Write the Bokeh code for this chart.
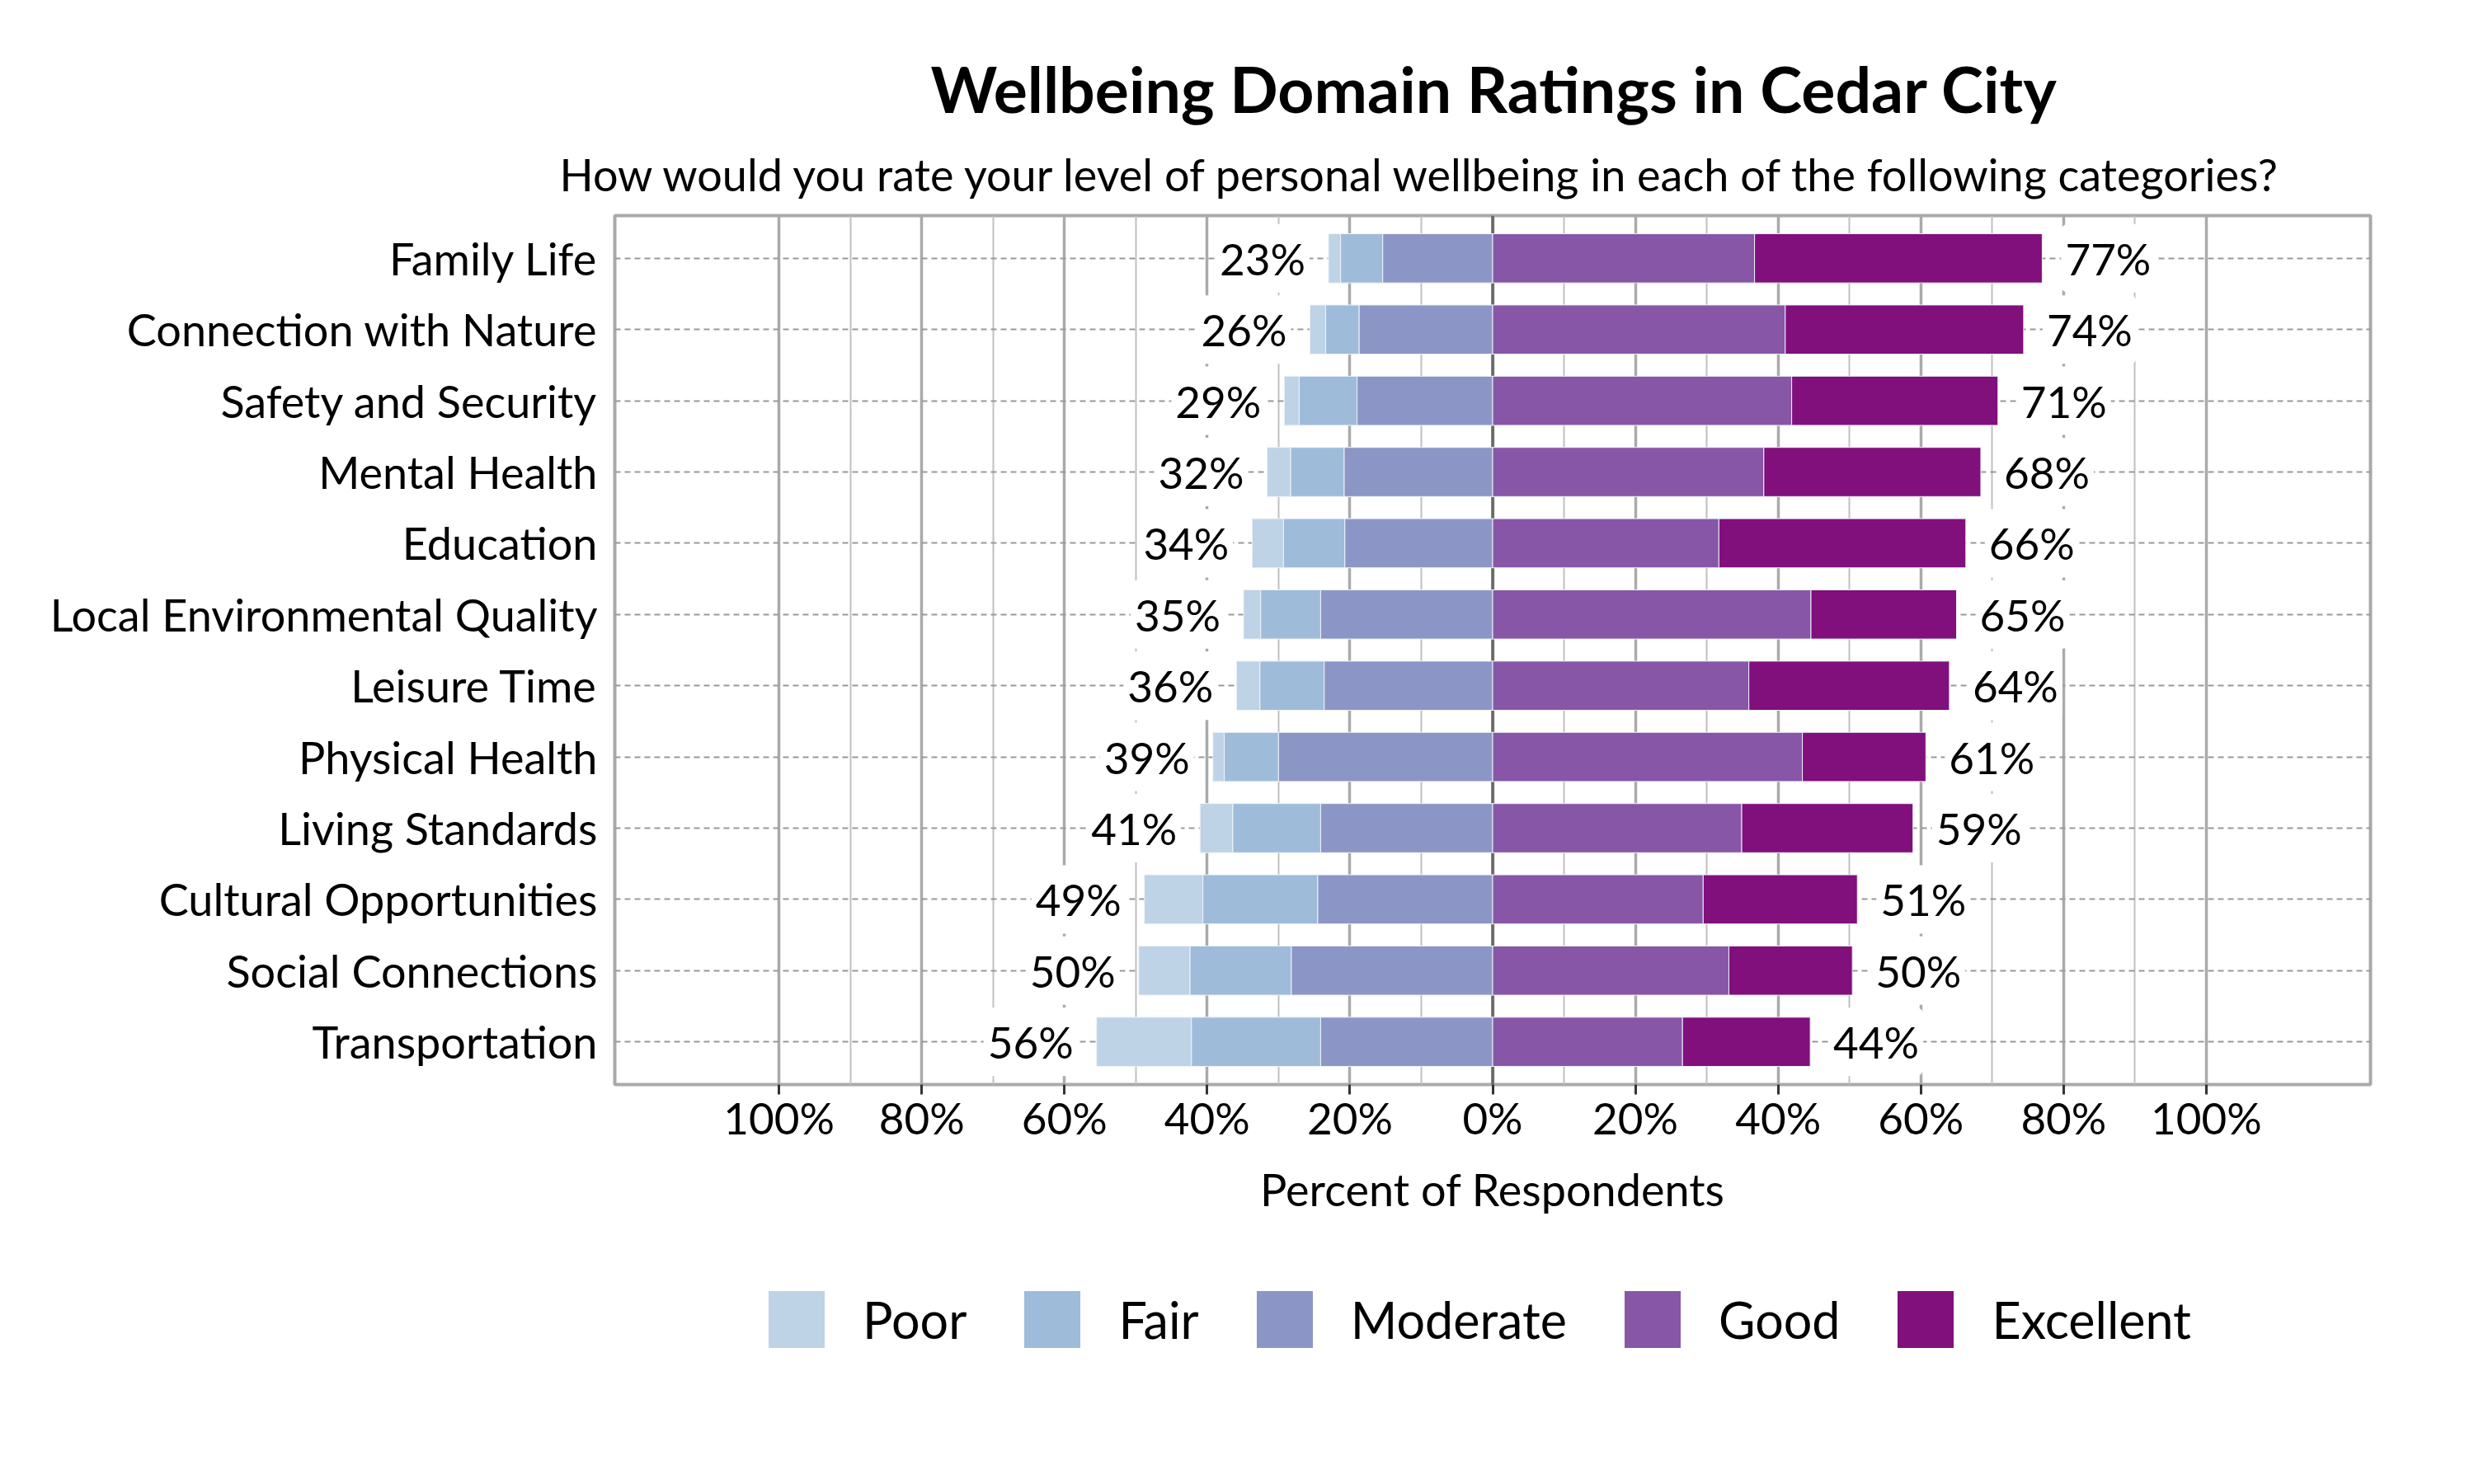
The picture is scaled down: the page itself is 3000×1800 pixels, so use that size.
from bokeh.plotting import figure
from bokeh.layouts import column
from bokeh.models import Range1d, FixedTicker, Span, Legend, LegendItem, Title, ColumnDataSource
from bokeh.core.properties import value
from bokeh.embed import file_html
from bokeh.resources import INLINE

categories = ["Family Life", "Connection with Nature", "Safety and Security", "Mental Health",
              "Education", "Local Environmental Quality", "Leisure Time", "Physical Health",
              "Living Standards", "Cultural Opportunities", "Social Connections", "Transportation"]
poor = [1.7, 2.2, 2.1, 3.3, 4.4, 2.4, 3.3, 1.6, 4.6, 8.2, 7.2, 13.3]
fair = [5.9, 4.7, 8.1, 7.5, 8.6, 8.4, 9.0, 7.6, 12.3, 16.1, 14.2, 18.1]
moderate = [15.4, 18.7, 19.0, 20.8, 20.7, 24.1, 23.6, 30.0, 24.1, 24.5, 28.2, 24.1]
good = [36.7, 41.0, 41.9, 38.0, 31.7, 44.6, 35.9, 43.4, 34.9, 29.5, 33.1, 26.6]
excellent = [40.3, 33.4, 28.9, 30.4, 34.6, 20.4, 28.1, 17.3, 24.0, 21.6, 17.3, 17.9]
neg_labels = ["23%", "26%", "29%", "32%", "34%", "35%", "36%", "39%", "41%", "49%", "50%", "56%"]
pos_labels = ["77%", "74%", "71%", "68%", "66%", "65%", "64%", "61%", "59%", "51%", "50%", "44%"]
tick_vals = [-100, -80, -60, -40, -20, 0, 20, 40, 60, 80, 100]
tick_labels = ["100%", "80%", "60%", "40%", "20%", "0%", "20%", "40%", "60%", "80%", "100%"]
minor_vals = [-90, -70, -50, -30, -10, 10, 30, 50, 70, 90]
series_names = ["Poor", "Fair", "Moderate", "Good", "Excellent"]
colors = ["#bfd3e6", "#9ebcda", "#8c96c6", "#8856a7", "#810f7c"]

FONT = "Lato"
n = len(categories)
ypos = [n - 1 - i for i in range(n)]

m_end = [-m for m in moderate]
f_end = [-(m + f) for m, f in zip(moderate, fair)]
p_end = [-(m + f + q) for m, f, q in zip(moderate, fair, poor)]
zero = [0.0] * n
g_end = good
e_end = [g + e for g, e in zip(good, excellent)]

src = ColumnDataSource(dict(y=ypos, zero=zero, m_end=m_end, f_end=f_end, p_end=p_end,
                            g_end=g_end, e_end=e_end, neg=neg_labels, pos=pos_labels))
segments = [("p_end", "f_end"), ("f_end", "m_end"), ("m_end", "zero"), ("zero", "g_end"), ("g_end", "e_end")]

p = figure(width=2984, height=1515, output_backend="svg", toolbar_location=None,
           x_range=Range1d(-123, 123), y_range=Range1d(-0.6, n - 0.4),
           min_border_left=745, min_border_right=110, min_border_top=261, min_border_bottom=200)
p.background_fill_color = "white"
p.border_fill_color = "white"
p.outline_line_color = "#aaaaaa"
p.outline_line_width = 4

# axes
xa = p.xaxis[0]
xa.ticker = FixedTicker(ticks=tick_vals, minor_ticks=minor_vals)
xa.major_label_overrides = {v: t for v, t in zip(tick_vals, tick_labels)}
xa.axis_line_color = None
xa.major_tick_line_color = "#333333"
xa.major_tick_line_width = 3
xa.major_tick_in = 0
xa.major_tick_out = 12
xa.minor_tick_line_color = None
xa.major_label_text_font = FONT
xa.major_label_text_font_size = "53px"
xa.major_label_text_color = "black"
xa.major_label_standoff = -4
xa.axis_label = "Percent of Respondents"
xa.axis_label_text_font = FONT
xa.axis_label_text_font_size = "54px"
xa.axis_label_text_font_style = "normal"
xa.axis_label_text_color = "black"
xa.axis_label_standoff = 20

ya = p.yaxis[0]
ya.ticker = FixedTicker(ticks=ypos)
ya.major_label_overrides = {y: c for y, c in zip(ypos, categories)}
ya.axis_line_color = None
ya.major_tick_line_color = None
ya.minor_tick_line_color = None
ya.major_label_text_font = FONT
ya.major_label_text_font_size = "54px"
ya.major_label_text_color = "black"
ya.major_label_standoff = 15

# grids
p.xgrid.grid_line_color = "#aaaaaa"
p.xgrid.grid_line_width = 3.5
p.xgrid.minor_grid_line_color = "#c0c0c0"
p.xgrid.minor_grid_line_width = 2
p.ygrid.grid_line_color = "#999999"
p.ygrid.grid_line_width = 2
p.ygrid.grid_line_dash = "7 5"

p.add_layout(Span(location=0, dimension="height", line_color="#666666", line_width=3.5, level="underlay"))

h = 0.69
edge = "#eef3f8"
for (l, r), c in zip(segments, colors):
    p.hbar(y="y", left=l, right=r, height=h, source=src, fill_color=c, line_color=edge, line_width=1)

p.text(x="p_end", y="y", text="neg", source=src, text_align="right", text_baseline="middle",
       x_offset=-23, text_font=value(FONT), text_font_size="53px", text_color="black",
       background_fill_color="white", padding=[5, 10], border_radius=8)
p.text(x="e_end", y="y", text="pos", source=src, text_align="left", text_baseline="middle",
       x_offset=23, text_font=value(FONT), text_font_size="53px", text_color="black",
       background_fill_color="white", padding=[5, 10], border_radius=8)

p.add_layout(Title(text="How would you rate your level of personal wellbeing in each of the following categories?",
                   text_font=FONT, text_font_size="54px", text_font_style="normal", align="left",
                   offset=-67, text_color="black", standoff=36), "above")
p.add_layout(Title(text="Wellbeing Domain Ratings in Cedar City", text_font=FONT, text_font_size="77px",
                   text_font_style="bold", align="left", offset=383, text_color="black", standoff=12), "above")

# legend strip below the chart (its ranges keep the series' bars out of view; only the legend shows)
p2 = figure(width=2984, height=269, output_backend="svg", toolbar_location=None,
            x_axis_type=None, y_axis_type=None, x_range=Range1d(1000, 1001), y_range=Range1d(1000, 1001),
            min_border=0)
p2.outline_line_color = None
p2.background_fill_color = "white"
p2.border_fill_color = "white"
p2.grid.visible = False
leg_rs = []
for (l, r), c in zip(segments, colors):
    leg_rs.append(p2.hbar(y="y", left=l, right=r, height=h, source=src, fill_color=c, line_color=None))

legend = Legend(items=[LegendItem(label=nm, renderers=[rr]) for nm, rr in zip(series_names, leg_rs)],
                orientation="horizontal", location=(178, 131),
                glyph_width=85, glyph_height=86, label_height=106, label_standoff=38, spacing=61,
                label_text_font=FONT, label_text_font_size="61px", label_text_color="black",
                border_line_color=None, background_fill_alpha=0, padding=0, margin=0)
p2.add_layout(legend, "center")

layout = column(p, p2, spacing=0)
open("out.html", "w").write(file_html(layout, INLINE))
